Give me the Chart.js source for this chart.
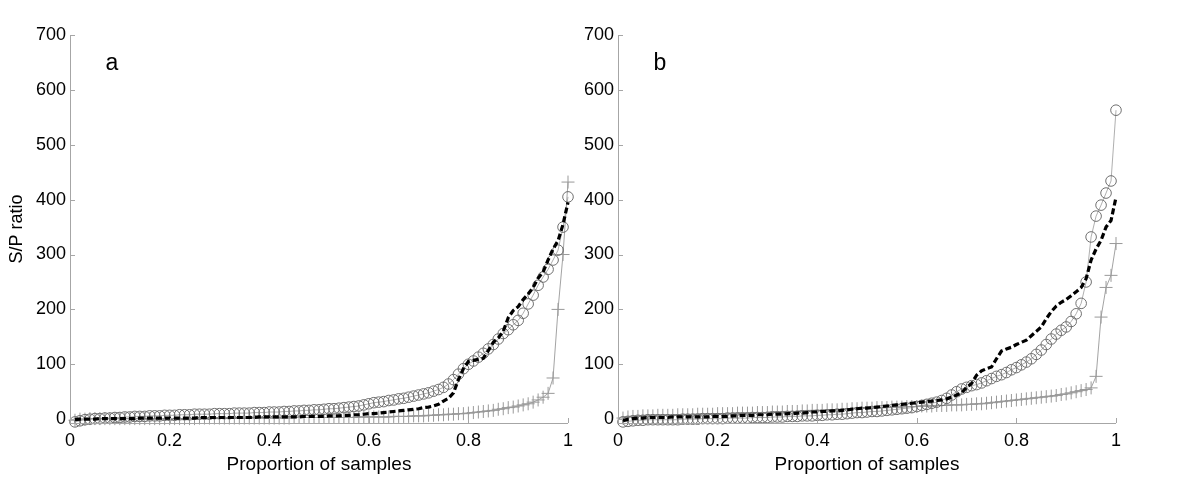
<!DOCTYPE html>
<html>
<head>
<meta charset="utf-8">
<script src="https://cdn.jsdelivr.net/npm/chart.js@4.4.1/dist/chart.umd.min.js"></script>
<style>
  html, body { margin: 0; padding: 0; background: #ffffff; }
  #wrap { position: relative; width: 1200px; height: 495px; overflow: hidden; background: #ffffff; }
  canvas { position: absolute; top: 0; }
  #cA { left: 0px; }
  #cB { left: 560px; }
</style>
</head>
<body>
<div id="wrap">
  <canvas id="cA" width="600" height="495"></canvas>
  <canvas id="cB" width="640" height="495"></canvas>
</div>
<script>
// ---- Data (S/P ratio of sorted samples; x = proportion of samples) ----
const panelLabels = ['a', 'b'];
const xTicks = [0, 0.2, 0.4, 0.6, 0.8, 1];
const yTicks = [0, 100, 200, 300, 400, 500, 600, 700];
const xTitle = 'Proportion of samples';
const yTitle = 'S/P ratio';

// Panel a
const circlesA = [
  -5, -3, -1, 0, 1, 1, 2, 2, 3, 3,
  4, 4, 5, 5, 5, 6, 6, 6, 7, 7,
  7, 8, 8, 8, 9, 9, 9, 9, 10, 10,
  10, 10, 11, 11, 11, 11, 12, 12, 12, 13,
  13, 13, 14, 14, 15, 15, 16, 16, 17, 17,
  18, 19, 19, 20, 21, 22, 23, 24, 26, 28,
  30, 31, 32, 34, 35, 37, 38, 40, 42, 44,
  46, 48, 51, 54, 58, 64, 72, 82, 92, 100,
  106, 113, 120, 128, 136, 146, 156, 163, 172, 180,
  193, 210, 226, 244, 259, 273, 290, 308, 350, 405
];
const dashedA = [
  -1, 0, 0, 0, 0, 1, 1, 1, 1, 1,
  1, 1, 1, 2, 2, 2, 2, 2, 2, 2,
  2, 2, 2, 2, 2, 3, 3, 3, 3, 3,
  3, 3, 3, 3, 3, 3, 3, 4, 4, 4,
  4, 4, 4, 4, 4, 4, 5, 5, 5, 5,
  5, 6, 6, 6, 7, 7, 8, 8, 9, 10,
  10, 11, 12, 13, 14, 15, 16, 17, 18, 19,
  21, 22, 24, 27, 33, 38, 48, 72, 92, 105,
  107, 109, 111, 125, 140, 148, 160, 185, 198, 205,
  218, 228, 240, 257, 268, 290, 310, 325, 355, 395
];
const plusA = [
  -2, 0, 0, 1, 1, 1, 1, 1, 1, 1,
  1, 1, 1, 1, 1, 1, 1, 1, 1, 1,
  1, 1, 1, 1, 1, 2, 2, 2, 2, 2,
  2, 2, 2, 2, 2, 2, 2, 2, 2, 2,
  2, 2, 2, 2, 3, 3, 3, 3, 3, 3,
  3, 3, 3, 3, 3, 3, 3, 4, 4, 4,
  4, 4, 4, 4, 5, 5, 5, 5, 6, 6,
  6, 7, 7, 8, 8, 9, 9, 10, 10, 11,
  12, 13, 14, 15, 16, 18, 19, 21, 22, 24,
  26, 28, 31, 35, 40, 47, 75, 200, 300, 432
];

// Panel b
const circlesB = [
  -5, -4, -3, -2, -2, -1, -1, -1, -1, -1,
  -1, -1, 0, 0, 0, 0, 1, 1, 1, 1,
  1, 2, 2, 2, 2, 2, 3, 3, 3, 3,
  4, 4, 4, 5, 5, 5, 6, 6, 6, 7,
  7, 8, 8, 9, 9, 10, 11, 12, 12, 13,
  14, 14, 15, 16, 17, 18, 19, 20, 21, 23,
  25, 27, 29, 31, 34, 38, 44, 50, 55, 58,
  61, 63, 66, 70, 74, 78, 81, 85, 90, 94,
  99, 104, 110, 118, 126, 136, 146, 155, 162, 168,
  178, 192, 211, 250, 332, 370, 390, 412, 434, 563
];
const dashedB = [
  -3, 0, 1, 2, 2, 3, 3, 3, 3, 3,
  4, 4, 4, 4, 4, 4, 4, 4, 5, 5,
  5, 5, 6, 6, 7, 7, 7, 8, 8, 8,
  9, 9, 9, 10, 10, 11, 11, 12, 13, 13,
  14, 14, 15, 15, 16, 17, 18, 19, 20, 20,
  21, 22, 23, 24, 25, 26, 27, 28, 29, 30,
  31, 32, 33, 34, 35, 37, 40, 44, 48, 58,
  65, 80, 88, 92, 95, 110, 124, 128, 131, 136,
  140, 144, 152, 160, 168, 183, 196, 206, 213, 218,
  225, 232, 240, 256, 290, 310, 326, 350, 362, 404
];
const plusB = [
  2, 4, 5, 5, 6, 6, 6, 7, 7, 7,
  7, 8, 8, 8, 8, 9, 9, 9, 9, 10,
  10, 10, 10, 11, 11, 11, 11, 12, 12, 12,
  13, 13, 13, 14, 14, 14, 15, 15, 16, 16,
  16, 17, 17, 17, 18, 18, 19, 19, 20, 20,
  20, 21, 21, 21, 22, 22, 22, 23, 23, 23,
  24, 24, 24, 25, 25, 25, 26, 26, 26, 27,
  27, 28, 28, 29, 30, 31, 32, 33, 34, 35,
  36, 37, 38, 39, 40, 41, 42, 43, 45, 46,
  48, 50, 52, 54, 57, 78, 186, 240, 262, 320
];

// x position of each sorted sample = its rank / number of samples
function toPoints(vals) {
  return vals.map((v, i) => ({ x: (i + 1) / vals.length, y: v }));
}

const FONT = "'Liberation Sans', Arial, sans-serif";
const AXIS_COLOR = '#a6a6a6';

// plugin: MATLAB-style axis lines with inward ticks, plus panel letter
const axesPlugin = {
  id: 'matlabAxes',
  afterDatasetsDraw(chart, args, opts) {
    const ctx = chart.ctx;
    const xs = chart.scales.x, ys = chart.scales.y;
    const x0 = xs.getPixelForValue(0), x1 = xs.getPixelForValue(1);
    const yb = chart.chartArea.bottom, yt = ys.getPixelForValue(700);
    ctx.save();
    ctx.strokeStyle = AXIS_COLOR;
    ctx.lineWidth = 1;
    ctx.beginPath();
    ctx.moveTo(Math.round(x0) + 0.5, yt);
    ctx.lineTo(Math.round(x0) + 0.5, yb);
    ctx.moveTo(x0, Math.round(yb) + 0.5);
    ctx.lineTo(x1, Math.round(yb) + 0.5);
    yTicks.forEach(v => {
      const py = Math.round(ys.getPixelForValue(v)) + 0.5;
      ctx.moveTo(x0, py); ctx.lineTo(x0 + 5, py);
    });
    xTicks.forEach(v => {
      const px = Math.round(xs.getPixelForValue(v)) + 0.5;
      ctx.moveTo(px, yb); ctx.lineTo(px, yb - 5);
    });
    ctx.stroke();
    ctx.fillStyle = '#000';
    ctx.font = '23px ' + FONT;
    ctx.textAlign = 'center';
    ctx.textBaseline = 'middle';
    ctx.fillText(opts.letter, x0 + opts.letterDx, ys.getPixelForValue(700) + 29);
    ctx.restore();
  }
};

function makeChart(canvasId, circ, dash, plus, letter, showYTitle, yAxisWidth, padLeft, padRight) {
  const ctx = document.getElementById(canvasId).getContext('2d');
  return new Chart(ctx, {
    type: 'scatter',
    data: {
      datasets: [
        {
          label: 'dashed',
          data: toPoints(dash),
          showLine: true,
          borderColor: '#000000',
          borderWidth: 3.2,
          borderDash: [6, 3],
          pointRadius: 0,
          tension: 0,
          clip: false,
          order: 0
        },
        {
          label: 'circles',
          data: toPoints(circ),
          showLine: true,
          borderColor: '#9a9a9a',
          borderWidth: 0.8,
          pointStyle: 'circle',
          pointRadius: 5.3,
          pointBorderWidth: 1,
          pointBorderColor: '#6f6f6f',
          pointBackgroundColor: 'rgba(0,0,0,0)',
          tension: 0,
          clip: false,
          order: 1
        },
        {
          label: 'plus',
          data: toPoints(plus),
          showLine: true,
          borderColor: '#8c8c8c',
          borderWidth: 0.8,
          pointStyle: 'cross',
          pointRadius: 6.5,
          pointBorderWidth: 1,
          pointBorderColor: '#999999',
          tension: 0,
          clip: false,
          order: 2
        }
      ]
    },
    options: {
      responsive: false,
      animation: false,
      devicePixelRatio: 1,
      layout: { padding: { left: padLeft, right: padRight, top: 35, bottom: 0 } },
      plugins: {
        legend: { display: false },
        tooltip: { enabled: false },
        matlabAxes: { letter: letter, letterDx: 42 }
      },
      scales: {
        x: {
          type: 'linear',
          min: 0,
          max: 1,
          border: { display: false },
          grid: { display: false, drawTicks: false, tickLength: 0 },
          afterBuildTicks: s => { s.ticks = xTicks.map(v => ({ value: v })); },
          afterFit: s => { s.height = 72; },
          ticks: {
            color: '#000',
            font: { family: FONT, size: 18 },
            padding: 7,
            maxRotation: 0,
            autoSkip: false,
            callback: v => String(v)
          },
          title: {
            display: true,
            text: xTitle,
            color: '#000',
            font: { family: FONT, size: 19 },
            padding: { top: 0, bottom: 19 }
          }
        },
        y: {
          type: 'linear',
          min: -7,
          max: 700,
          border: { display: false },
          grid: { display: false, drawTicks: false, tickLength: 0 },
          afterBuildTicks: s => { s.ticks = yTicks.map(v => ({ value: v })); },
          afterFit: s => { s.width = yAxisWidth; },
          ticks: {
            color: '#000',
            font: { family: FONT, size: 18 },
            padding: 4,
            autoSkip: false,
            callback: v => String(v)
          },
          title: {
            display: showYTitle,
            text: yTitle,
            color: '#000',
            font: { family: FONT, size: 18 },
            padding: { top: 6, bottom: 0 }
          }
        }
      }
    },
    plugins: [axesPlugin]
  });
}

makeChart('cA', circlesA, dashedA, plusA, panelLabels[0], true, 70, 0, 32);
makeChart('cB', circlesB, dashedB, plusB, panelLabels[1], false, 58, 0, 84);
</script>
</body>
</html>
